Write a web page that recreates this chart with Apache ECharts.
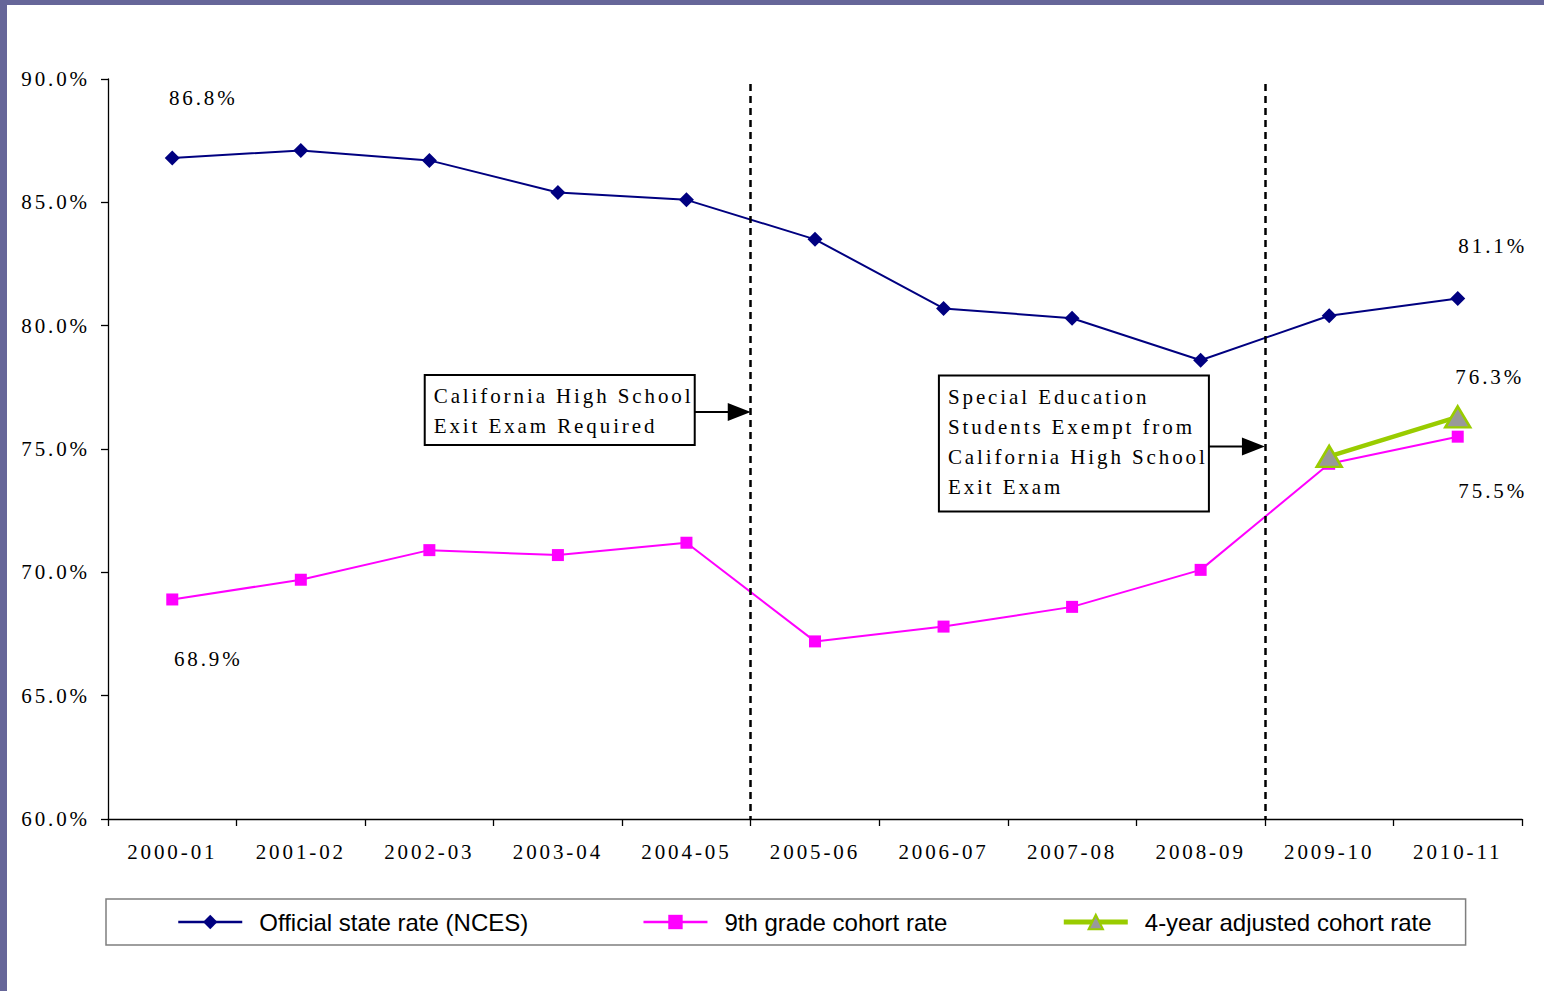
<!DOCTYPE html>
<html>
<head>
<meta charset="utf-8">
<script src="https://cdn.jsdelivr.net/npm/echarts@6/dist/echarts.min.js"></script>
<style>
  html, body { margin: 0; padding: 0; background: #fff; }
  #wrap { position: relative; width: 1544px; height: 991px; overflow: hidden; }
  #chart { position: absolute; left: 0; top: 0; width: 1544px; height: 991px; }
  #bTop { position: absolute; left: 0; top: 0; width: 1544px; height: 5px; background: #666699; }
  #bLeft { position: absolute; left: 0; top: 0; width: 7px; height: 991px; background: #666699; }
  #chart text[style*="Serif"] { letter-spacing: 2.9px; }
</style>
</head>
<body>
<div id="wrap">
  <div id="chart"></div>
  <div id="bTop"></div>
  <div id="bLeft"></div>
</div>
<script>
// ---- data ----
const years = ['2000-01','2001-02','2002-03','2003-04','2004-05','2005-06','2006-07','2007-08','2008-09','2009-10','2010-11'];
const officialRate = [86.8, 87.1, 86.7, 85.4, 85.1, 83.5, 80.7, 80.3, 78.6, 80.4, 81.1];
const ninthGradeRate = [68.9, 69.7, 70.9, 70.7, 71.2, 67.2, 67.8, 68.6, 70.1, 74.4, 75.5];
const adjustedCohortRate = [null, null, null, null, null, null, null, null, null, 74.7, 76.3];
const yTicks = { min: 60, max: 90, interval: 5 };
// category boundaries where policy changes happened (between 2004-05/2005-06 and 2008-09/2009-10)
const dividers = [5, 9];
const annotations = [
  { boundary: 5, y: 76.5, lines: ['California High School', 'Exit Exam Required'] },
  { boundary: 9, y: 75.1, lines: ['Special Education', 'Students Exempt from', 'California High School', 'Exit Exam'] }
];
// which points carry value labels (index -> label offset from the point)
const labelled = {
  official: { 0: [31, -60], 10: [35, -53] },
  ninth: { 0: [36, 60], 10: [35, 54] },
  adjusted: { 10: [32, -40] }
};

const SERIF = '"Liberation Serif", "Times New Roman", serif';
const SANS = '"Liberation Sans", Arial, sans-serif';

function withLabels(values, key) {
  return values.map((v, i) => {
    const off = labelled[key][i];
    if (v == null || !off) return v;
    return {
      value: v,
      label: {
        show: true, position: 'inside', offset: off,
        formatter: (p) => p.value.toFixed(1) + '%',
        color: '#000', fontFamily: SERIF, fontSize: 21
      }
    };
  });
}

const chart = echarts.init(document.getElementById('chart'), null, { renderer: 'svg' });

const option = {
  animation: false,
  backgroundColor: '#fff',
  grid: { left: 108, right: 22, top: 79, bottom: 172, containLabel: false },
  legend: {
    left: 106, top: 899,
    padding: [11, 34, 11, 71],
    itemGap: 114, itemWidth: 64, itemHeight: 18,
    borderColor: '#7f7f7f', borderWidth: 1.5, backgroundColor: '#fff',
    textStyle: { fontFamily: SANS, fontSize: 24, color: '#000', padding: [0, 0, 0, 12] },
    data: [
      { name: 'Official state rate (NCES)', lineStyle: { width: 2.5 } },
      { name: '9th grade cohort rate', lineStyle: { width: 2.5 } },
      { name: '4-year adjusted cohort rate', lineStyle: { width: 5, color: '#99cc00' },
        itemStyle: { color: '#999999', borderColor: '#99cc00', borderWidth: 2 } }
    ]
  },
  xAxis: [
    {
      type: 'category', data: years, boundaryGap: true,
      axisLine: { lineStyle: { color: '#000', width: 1.3 } },
      axisTick: { show: true, length: 7, inside: false, lineStyle: { color: '#000', width: 1.3 } },
      axisLabel: { fontFamily: SERIF, fontSize: 21, color: '#000', margin: 22, interval: 0 },
      splitLine: { show: false }
    },
    { type: 'value', min: 0, max: years.length, show: false, splitLine: { show: false } }
  ],
  yAxis: {
    type: 'value', min: yTicks.min, max: yTicks.max, interval: yTicks.interval,
    axisLine: { show: true, lineStyle: { color: '#000', width: 1.3 } },
    axisTick: { show: true, length: 7, lineStyle: { color: '#000', width: 1.3 } },
    axisLabel: { fontFamily: SERIF, fontSize: 21, color: '#000', margin: 18, formatter: (v) => v.toFixed(1) + '%' },
    splitLine: { show: false }
  },
  series: [
    {
      name: 'Official state rate (NCES)', type: 'line', data: withLabels(officialRate, 'official'),
      symbol: 'diamond', symbolSize: 15, color: '#000080',
      lineStyle: { color: '#000080', width: 2 }, itemStyle: { color: '#000080' }, z: 3
    },
    {
      name: '9th grade cohort rate', type: 'line', data: withLabels(ninthGradeRate, 'ninth'),
      symbol: 'rect', symbolSize: 12, color: '#ff00ff',
      lineStyle: { color: '#ff00ff', width: 2 }, itemStyle: { color: '#ff00ff' }, z: 3
    },
    {
      name: '4-year adjusted cohort rate', type: 'line', data: withLabels(adjustedCohortRate, 'adjusted'),
      symbol: 'triangle', symbolSize: [25, 21], color: '#99cc00', connectNulls: false,
      lineStyle: { color: '#99cc00', width: 4.5 },
      itemStyle: { color: '#999999', borderColor: '#99cc00', borderWidth: 2.5 }, z: 4
    },
    {
      name: 'dividers', type: 'line', xAxisIndex: 1, data: [], silent: true,
      markLine: {
        silent: true, symbol: 'none', label: { show: false },
        lineStyle: { color: '#000', width: 2.5, type: [7, 5] },
        data: dividers.map(d => [{ coord: [d, 89.8] }, { coord: [d, yTicks.min] }])
      }
    }
  ]
};
chart.setOption(option);

// annotation boxes with arrows, positioned through the axes
const graphics = [];
annotations.forEach((a) => {
  const tip = chart.convertToPixel({ xAxisIndex: 1, yAxisIndex: 0 }, [a.boundary, a.y]);
  const lineH = 30;
  const boxW = 270;
  const n = a.lines.length;
  const boxH = n * lineH + (n > 2 ? 16 : 10);
  const boxRight = tip[0] - 56;
  const boxLeft = boxRight - boxW;
  const boxTop = tip[1] - (n === 2 ? 37 : 71);
  graphics.push({
    type: 'rect', shape: { x: boxLeft, y: boxTop, width: boxW, height: boxH },
    style: { fill: '#fff', stroke: '#000', lineWidth: 2 }, z: 10
  });
  a.lines.forEach((t, i) => {
    graphics.push({
      type: 'text', x: boxLeft + 9, y: boxTop + 21 + i * lineH,
      style: { text: t, font: '21px ' + SERIF, fill: '#000', verticalAlign: 'middle', align: 'left' },
      z: 11
    });
  });
  graphics.push({
    type: 'line', shape: { x1: boxRight, y1: tip[1], x2: tip[0] - 22, y2: tip[1] },
    style: { stroke: '#000', lineWidth: 2 }, z: 10
  });
  graphics.push({
    type: 'polygon', shape: { points: [[tip[0] - 23, tip[1] - 9], [tip[0] - 23, tip[1] + 9], [tip[0], tip[1]]] },
    style: { fill: '#000' }, z: 10
  });
});
chart.setOption({ graphic: graphics });
</script>
</body>
</html>
